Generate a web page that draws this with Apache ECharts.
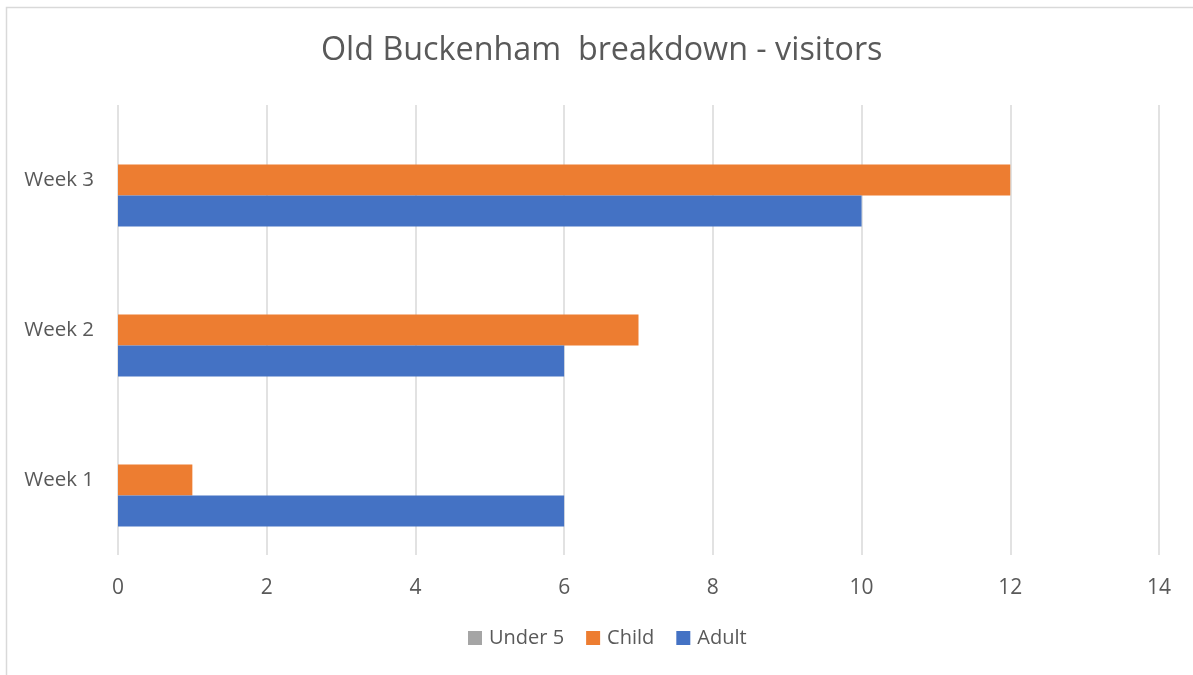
<!DOCTYPE html>
<html>
<head>
<meta charset="utf-8">
<script src="https://cdn.jsdelivr.net/npm/echarts@6/dist/echarts.min.js"></script>
<style>html,body{margin:0;padding:0;background:#fff;}#c{width:1193px;height:675px;}</style>
</head>
<body>
<div id="c"></div>
<script>
const categories = ['Week 1', 'Week 2', 'Week 3'];
const under5 = [0, 0, 0];
const child = [1, 7, 12];
const adult = [6, 6, 10];
const xTicks = { min: 0, max: 14, interval: 2 };

const chart = echarts.init(document.getElementById('c'));
const font = 'Open Sans';
const txt = '#595959';
chart.setOption({
  animation: false,
  textStyle: { fontFamily: font },
  graphic: [{
    type: 'rect', left: 4, top: 5, silent: true,
    shape: { width: 1300, height: 800 },
    style: { fill: 'none', stroke: '#d9d9d9', lineWidth: 1.5 }
  }],
  title: {
    text: 'Old Buckenham  breakdown - visitors',
    left: 316, top: 30,
    textStyle: { fontFamily: font, fontSize: 32.3, fontWeight: 'normal', color: txt }
  },
  legend: {
    data: ['Under 5', 'Child', 'Adult'],
    bottom: 22, left: 463,
    icon: 'rect', itemWidth: 14, itemHeight: 14, itemGap: 22,
    textStyle: { fontFamily: font, fontSize: 20, color: txt, padding: [0, 0, 0, 2] }
  },
  grid: { left: 118, right: 34, top: 105, bottom: 120 },
  xAxis: {
    type: 'value', min: xTicks.min, max: xTicks.max, interval: xTicks.interval,
    axisLine: { show: false }, axisTick: { show: false },
    axisLabel: { fontFamily: font, fontSize: 21, color: txt, margin: 23 },
    splitLine: { lineStyle: { color: '#d9d9d9', width: 1.5 } }
  },
  yAxis: {
    type: 'category', data: categories,
    axisLine: { show: false }, axisTick: { show: false },
    axisLabel: { fontFamily: font, fontSize: 20.5, color: txt, margin: 24 }
  },
  series: [
    { name: 'Under 5', type: 'bar', data: under5, itemStyle: { color: '#A5A5A5' }, barGap: '0%', barCategoryGap: '38%' },
    { name: 'Child', type: 'bar', data: child, itemStyle: { color: '#ED7D31' }, barGap: '0%', barCategoryGap: '38%' },
    { name: 'Adult', type: 'bar', data: adult, itemStyle: { color: '#4472C4' }, barGap: '0%', barCategoryGap: '38%' }
  ]
});
</script>
</body>
</html>
